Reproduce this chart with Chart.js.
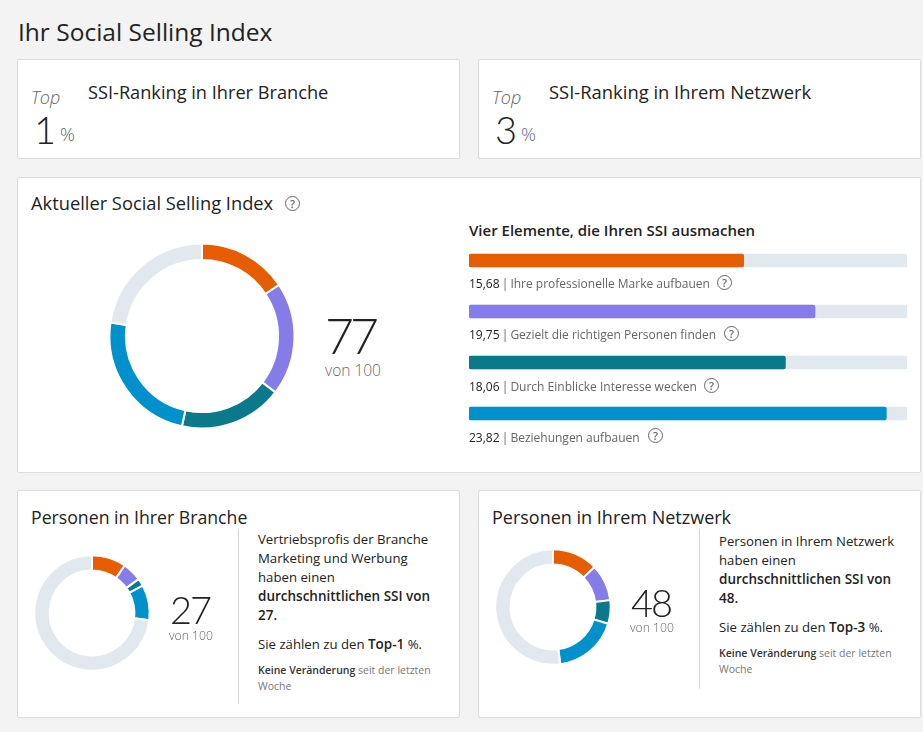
<!DOCTYPE html>
<html lang="de"><head><meta charset="utf-8">
<script src="https://cdn.jsdelivr.net/npm/chart.js@4/dist/chart.umd.min.js"></script>
<style>
html,body{margin:0;padding:0;background:#f3f3f3;width:923px;height:732px;overflow:hidden}
body{font-family:"Open Sans","Noto Sans",sans-serif;color:#222;position:relative}
.card{position:absolute;background:#fff;border:1px solid #dcdcdc;border-radius:2px;box-sizing:border-box;box-shadow:0 0 1px rgba(0,0,0,.05)}
.t{position:absolute;white-space:nowrap;line-height:1}
canvas{position:absolute}
.q{position:absolute;width:13px;height:13px;border:1.5px solid #666;border-radius:50%;font-size:11px;line-height:13px;text-align:center;color:#666;font-weight:600}
.big{font-family:Lato,"Open Sans",sans-serif;font-weight:300;color:#222;text-align:center}
.grey{color:#666}
.p{position:absolute;font-size:13.2px;line-height:19px;color:#222;width:200px}
.p b{font-weight:600;font-size:13.5px}
.s{position:absolute;font-size:10.5px;line-height:16px;color:#777;width:190px}
.s b{color:#333;font-weight:600}
.div{position:absolute;width:1px;background:#d5d5d5}
.lab{position:absolute;font-size:12px;color:#666;white-space:nowrap;line-height:1}
.lab b{color:#222;font-weight:400}
.lab i{font-style:normal;margin:0 -1px}
</style></head><body>
<div class="t" style="left:18px;top:20px;font-size:24.5px;color:#222">Ihr Social Selling Index</div>

<div class="card" style="left:17px;top:59px;width:443px;height:100px"></div>
<div class="card" style="left:478px;top:59px;width:443px;height:100px"></div>
<div class="card" style="left:17px;top:177px;width:904px;height:296px"></div>
<div class="card" style="left:17px;top:490px;width:443px;height:228px"></div>
<div class="card" style="left:478px;top:490px;width:443px;height:228px"></div>

<div class="t grey" style="left:31px;top:88px;font-size:18px;font-style:italic;font-weight:300">Top</div>
<div class="t" style="left:88px;top:83px;font-size:18.2px">SSI-Ranking in Ihrer Branche</div>
<div class="t big" style="left:34px;top:110px;font-size:38px">1</div>
<div class="t grey" style="left:60px;top:125px;font-size:18.5px;font-weight:300">%</div>

<div class="t grey" style="left:492px;top:88px;font-size:18px;font-style:italic;font-weight:300">Top</div>
<div class="t" style="left:549px;top:83px;font-size:18.4px">SSI-Ranking in Ihrem Netzwerk</div>
<div class="t big" style="left:495px;top:110px;font-size:38px">3</div>
<div class="t grey" style="left:521px;top:125px;font-size:18.5px;font-weight:300;color:#5a6b95">%</div>

<div class="t" style="left:31px;top:194px;font-size:18.3px">Aktueller Social Selling Index</div>
<div class="q" style="left:285px;top:196px">?</div>
<div class="t" style="left:469px;top:223px;font-size:15px;font-weight:600">Vier Elemente, die Ihren SSI ausmachen</div>

<canvas id="cMain" width="190" height="190" style="left:107px;top:241px;width:190px;height:190px"></canvas>
<div class="t big" style="left:300px;top:310px;width:100px;font-size:50px;letter-spacing:-4px">77</div>
<div class="t grey" style="left:303px;top:363px;width:100px;text-align:center;font-size:15.5px;font-weight:300">von 100</div>

<canvas id="cBars" width="438" height="204" style="left:469px;top:235px;width:438px;height:204px"></canvas>
<div class="lab" style="left:469px;top:278px"><b>15,68</b> <i>|</i> Ihre professionelle Marke aufbauen</div><div class="q" style="left:717px;top:275px">?</div>
<div class="lab" style="left:469px;top:329px"><b>19,75</b> <i>|</i> Gezielt die richtigen Personen finden</div><div class="q" style="left:724px;top:326px">?</div>
<div class="lab" style="left:469px;top:381px"><b>18,06</b> <i>|</i> Durch Einblicke Interesse wecken</div><div class="q" style="left:704px;top:378px">?</div>
<div class="lab" style="left:469px;top:432px"><b>23,82</b> <i>|</i> Beziehungen aufbauen</div><div class="q" style="left:648px;top:428px">?</div>

<div class="t" style="left:31px;top:509px;font-size:17.7px">Personen in Ihrer Branche</div>
<canvas id="cInd" width="120" height="120" style="left:32px;top:553px;width:120px;height:120px"></canvas>
<div class="t big" style="left:140px;top:590px;width:100px;font-size:38px;letter-spacing:-2px">27</div>
<div class="t grey" style="left:141px;top:630px;width:100px;text-align:center;font-size:12.2px;font-weight:300">von 100</div>
<div class="div" style="left:238px;top:529px;height:175px"></div>
<div class="p" style="left:258px;top:530px">Vertriebsprofis der Branche<br>Marketing und Werbung<br>haben einen<br><b>durchschnittlichen SSI von<br>27.</b></div>
<div class="p" style="left:258px;top:635px">Sie zählen zu den <b>Top-1</b> %.</div>
<div class="s" style="left:258px;top:662px"><b>Keine Veränderung</b> seit der letzten<br>Woche</div>

<div class="t" style="left:492px;top:508px;font-size:18px">Personen in Ihrem Netzwerk</div>
<canvas id="cNet" width="120" height="120" style="left:493px;top:547px;width:120px;height:120px"></canvas>
<div class="t big" style="left:601px;top:583px;width:100px;font-size:38px;letter-spacing:-2px">48</div>
<div class="t grey" style="left:602px;top:622px;width:100px;text-align:center;font-size:12.2px;font-weight:300">von 100</div>
<div class="div" style="left:699px;top:529px;height:160px"></div>
<div class="p" style="left:719px;top:532px">Personen in Ihrem Netzwerk<br>haben einen<br><b>durchschnittlichen SSI von<br>48.</b></div>
<div class="p" style="left:719px;top:618px">Sie zählen zu den <b>Top-3</b> %.</div>
<div class="s" style="left:719px;top:645px"><b>Keine Veränderung</b> seit der letzten<br>Woche</div>

<script>
const segmentNames = ["Ihre professionelle Marke aufbauen","Gezielt die richtigen Personen finden","Durch Einblicke Interesse wecken","Beziehungen aufbauen","Rest"];
const barNames = segmentNames.slice(0,4);
const mainValues = [15.68,19.75,18.06,23.82,22.69];
const industryValues = [9.6,5.4,2.1,9.9,73];
const networkValues = [12.8,10.3,6.6,18.3,52];
const barValues = [15.68,19.75,18.06,23.82];
const barMaximum = [25,25,25,25];
const segmentColors = ["#e65c00","#867ce8","#0a7a8a","#0091cd","#e1e8ee"];
const trackColor = "#e1e8ee";

Chart.defaults.animation = false;
function ring(id, values, radius, cutout){
  new Chart(document.getElementById(id),{
    type:"doughnut",
    data:{labels:segmentNames,datasets:[{data:values,backgroundColor:segmentColors,borderColor:"#fff",borderWidth:2,borderAlign:"center"}]},
    options:{responsive:false,radius:radius,cutout:cutout,layout:{padding:0},plugins:{legend:{display:false},tooltip:{enabled:false}}}
  });
}
ring("cMain",mainValues,92.5,"82.2%");
ring("cInd",industryValues,57.7,"73.5%");
ring("cNet",networkValues,57.7,"73.5%");

new Chart(document.getElementById("cBars"),{
  type:"bar",
  data:{labels:barNames,datasets:[
    {data:barValues,backgroundColor:segmentColors.slice(0,4),barThickness:13,borderRadius:2,borderSkipped:false,order:1},
    {data:barMaximum,backgroundColor:trackColor,barThickness:13,borderRadius:2,borderSkipped:false,order:2}
  ]},
  options:{indexAxis:"y",responsive:false,layout:{padding:0},
    datasets:{bar:{grouped:false}},
    scales:{x:{min:0,max:25,display:false},y:{display:false}},
    plugins:{legend:{display:false},tooltip:{enabled:false}}}
});
</script>
</body></html>
